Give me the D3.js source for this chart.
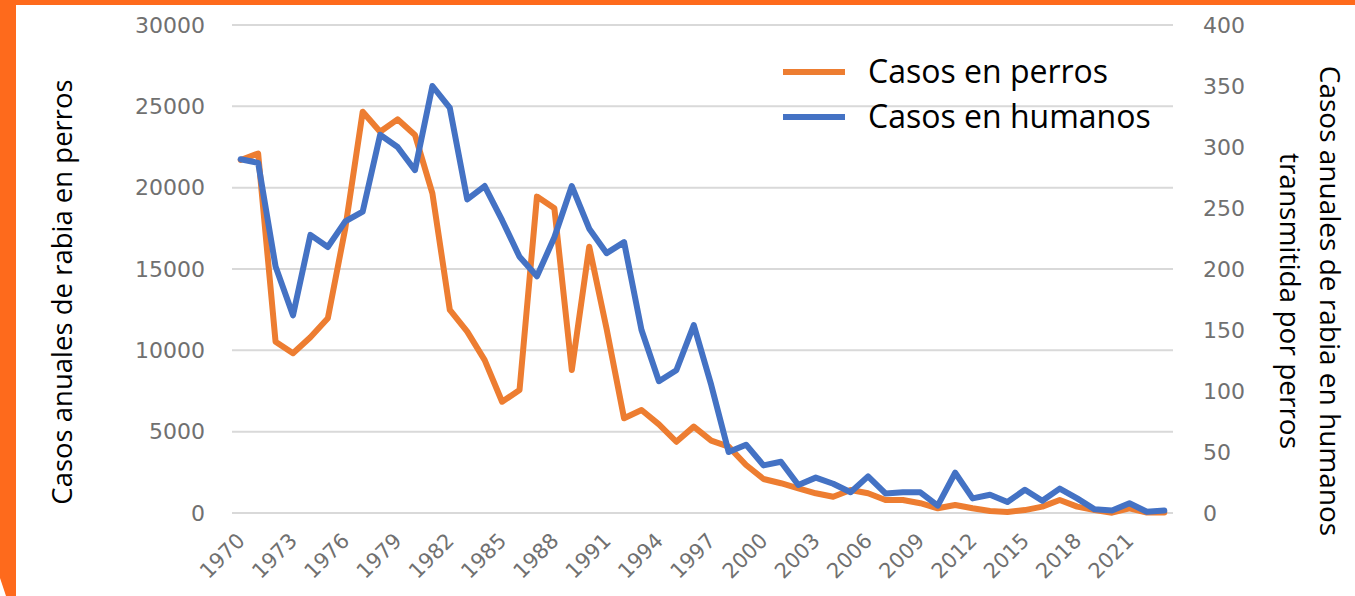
<!DOCTYPE html>
<html>
<head>
<meta charset="utf-8">
<script src="https://cdn.jsdelivr.net/npm/d3@7"></script>
<style>
  html, body { margin: 0; padding: 0; background: #fff; }
  svg { display: block; }
</style>
</head>
<body>
<svg id="chart" width="1355" height="596"></svg>
<script>
  // Years on the category axis
const years = d3.range(1970, 2024);

  // Annual dog rabies cases (left axis)
const dogCases = [
  21700, 22100, 10530, 9820, 10800, 11970, 17500, 24670, 23440, 24200,
  23240, 19650, 12480, 11150, 9400, 6840, 7560, 19450, 18730, 8790,
  16370, 11300, 5820, 6330, 5450, 4380, 5310, 4450, 4080, 2950,
  2090, 1830, 1520, 1210, 1000, 1410, 1210, 800, 800, 600,
  290, 490, 290, 120, 60, 180, 390, 800, 390, 180,
  20, 290, 30, 30
];

  // Annual human rabies cases transmitted by dogs (right axis)
const humanCases = [
  290, 287, 202, 162, 228, 218, 239, 247, 310, 300,
  281, 350, 332, 257, 268, 240, 210, 194, 226, 268,
  233, 213, 222, 150, 108, 117, 154, 105, 50, 56,
  39, 42, 23, 29, 24, 17, 30, 16, 17, 17,
  6, 33, 12, 15, 9, 19, 10, 20, 12, 3,
  2, 8, 1, 2
];

const leftTicks = [0, 5000, 10000, 15000, 20000, 25000, 30000];
const rightTicks = [0, 50, 100, 150, 200, 250, 300, 350, 400];
const xTickYears = d3.range(1970, 2024, 3);

const seriesNames = ["Casos en perros", "Casos en humanos"];
const seriesColors = ["#ed7d31", "#4472c4"];

const svg = d3.select("#chart");
const width = +svg.attr("width");
const height = +svg.attr("height");
const plot = { left: 232, right: 1173, top: 25, bottom: 513 };

  // Orange frame on the top and left side
svg.append("rect").attr("x", 0).attr("y", 0).attr("width", width).attr("height", 5).attr("fill", "#fe6a1c");
svg.append("rect").attr("x", 0).attr("y", 0).attr("width", 16).attr("height", height).attr("fill", "#fe6a1c");
svg.append("path").attr("d", "M0,578 L6,596 L0,596 Z").attr("fill", "#fff");

const x = d3.scalePoint()
  .domain(years)
  .range([plot.left, plot.right])
  .padding(0.5);

const yLeft = d3.scaleLinear()
  .domain([0, 30000])
  .range([plot.bottom, plot.top]);

const yRight = d3.scaleLinear()
  .domain([0, 400])
  .range([plot.bottom, plot.top]);

  // Horizontal gridlines follow the left axis
svg.append("g")
  .selectAll("line")
  .data(leftTicks)
  .join("line")
    .attr("x1", plot.left)
    .attr("x2", plot.right)
    .attr("y1", d => yLeft(d))
    .attr("y2", d => yLeft(d))
    .attr("stroke", "#d9d9d9")
    .attr("stroke-width", 2);

const tickFont = "'DejaVu Sans', sans-serif";
const tickColor = "#707070";

  // Left axis labels
const leftAxis = svg.append("g")
  .attr("transform", `translate(${plot.left - 27},0)`)
  .call(d3.axisLeft(yLeft).tickValues(leftTicks).tickSize(0).tickPadding(0).tickFormat(d3.format("d")));
leftAxis.select(".domain").remove();
leftAxis.selectAll("text")
  .attr("font-family", tickFont)
  .attr("font-size", 22)
  .attr("fill", tickColor);

  // Right axis labels
const rightAxis = svg.append("g")
  .attr("transform", `translate(1203,0)`)
  .call(d3.axisRight(yRight).tickValues(rightTicks).tickSize(0).tickPadding(0).tickFormat(d3.format("d")));
rightAxis.select(".domain").remove();
rightAxis.selectAll("text")
  .attr("font-family", tickFont)
  .attr("font-size", 22)
  .attr("fill", tickColor);

  // Year labels, rotated like the spreadsheet chart
const xAxis = svg.append("g")
  .attr("transform", `translate(0,${plot.bottom})`)
  .call(d3.axisBottom(x).tickValues(xTickYears).tickSize(0).tickFormat(d => d));
xAxis.select(".domain").remove();
xAxis.selectAll("text")
  .attr("font-family", tickFont)
  .attr("font-size", 21)
  .attr("fill", tickColor)
  .attr("text-anchor", "end")
  .attr("dy", null)
  .attr("y", 0)
  .attr("transform", "translate(5,29) rotate(-45)");

  // The two series
const lineDogs = d3.line()
  .x((d, i) => x(years[i]))
  .y(d => yLeft(d));

const lineHumans = d3.line()
  .x((d, i) => x(years[i]))
  .y(d => yRight(d));

svg.append("path")
  .datum(dogCases)
  .attr("d", lineDogs)
  .attr("fill", "none")
  .attr("stroke", seriesColors[0])
  .attr("stroke-width", 6)
  .attr("stroke-linejoin", "round")
  .attr("stroke-linecap", "round");

svg.append("path")
  .datum(humanCases)
  .attr("d", lineHumans)
  .attr("fill", "none")
  .attr("stroke", seriesColors[1])
  .attr("stroke-width", 6)
  .attr("stroke-linejoin", "round")
  .attr("stroke-linecap", "round");

  // Legend in the upper right corner
const legend = svg.append("g")
  .selectAll("g")
  .data(seriesNames)
  .join("g")
    .attr("transform", (d, i) => `translate(783,${72 + i * 45})`);

legend.append("line")
  .attr("x1", 0)
  .attr("x2", 62)
  .attr("stroke", (d, i) => seriesColors[i])
  .attr("stroke-width", 6);

legend.append("text")
  .attr("x", 85)
  .attr("y", 11)
  .attr("font-family", "'Open Sans', sans-serif")
  .attr("font-size", 32)
  .attr("fill", "#000")
  .text(d => d);

  // Axis titles
const titleFont = "'Open Sans', sans-serif";

svg.append("text")
  .attr("transform", "translate(72,292) rotate(-90)")
  .attr("text-anchor", "middle")
  .attr("font-family", titleFont)
  .attr("font-size", 27.5)
  .attr("fill", "#000")
  .text("Casos anuales de rabia en perros");

svg.append("text")
  .attr("transform", "translate(1320,301) rotate(90)")
  .attr("text-anchor", "middle")
  .attr("font-family", titleFont)
  .attr("font-size", 28)
  .attr("fill", "#000")
  .text("Casos anuales de rabia en humanos");

svg.append("text")
  .attr("transform", "translate(1280,301) rotate(90)")
  .attr("text-anchor", "middle")
  .attr("font-family", titleFont)
  .attr("font-size", 28)
  .attr("fill", "#000")
  .text("transmitida por perros");
</script>
</body>
</html>
